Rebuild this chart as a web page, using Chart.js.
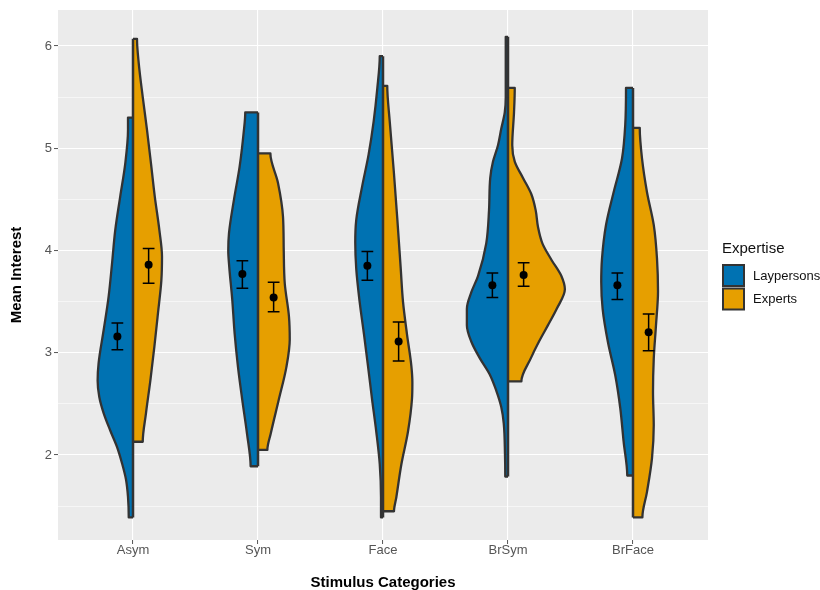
<!DOCTYPE html>
<html>
<head>
<meta charset="utf-8">
<script src="https://cdn.jsdelivr.net/npm/chart.js@4.4.1/dist/chart.umd.min.js"></script>
<style>
  html, body { margin: 0; padding: 0; background: #ffffff; }
  canvas { display: block; }
</style>
</head>
<body>
<canvas id="chart" width="820" height="590"></canvas>
<script>
// Stimulus categories on the x axis
const categories = ['Asym', 'Sym', 'Face', 'BrSym', 'BrFace'];
const groups = ['Laypersons', 'Experts'];

// Violin outlines: [mean interest, half-width of the density in category units], bottom to top
const asymLay = [[1.39, 0.034], [1.59, 0.040], [1.76, 0.056], [1.92, 0.088], [2.08, 0.128], [2.24, 0.182], [2.41, 0.235], [2.57, 0.270], [2.73, 0.283], [2.90, 0.275], [3.22, 0.235], [3.55, 0.195], [3.87, 0.168], [4.20, 0.142], [4.53, 0.102], [4.85, 0.062], [5.18, 0.040], [5.30, 0.040]];
const asymExp = [[2.13, 0.078], [2.41, 0.104], [2.73, 0.139], [3.06, 0.171], [3.39, 0.200], [3.71, 0.227], [3.94, 0.232], [4.20, 0.211], [4.53, 0.174], [4.85, 0.144], [5.18, 0.112], [5.50, 0.078], [5.83, 0.046], [6.07, 0.032]];
const symLay = [[1.89, 0.059], [2.21, 0.088], [2.54, 0.126], [2.86, 0.160], [3.19, 0.187], [3.52, 0.206], [3.84, 0.230], [4.00, 0.238], [4.17, 0.232], [4.50, 0.192], [4.82, 0.147], [5.15, 0.115], [5.35, 0.102]];
const symExp = [[2.05, 0.075], [2.21, 0.102], [2.54, 0.166], [2.86, 0.227], [3.13, 0.254], [3.35, 0.248], [3.68, 0.214], [4.00, 0.206], [4.33, 0.200], [4.66, 0.160], [4.95, 0.099]];
const faceLay = [[1.39, 0.016], [1.59, 0.016], [1.91, 0.026], [2.23, 0.054], [2.55, 0.088], [2.87, 0.120], [3.18, 0.152], [3.50, 0.187], [3.82, 0.214], [4.08, 0.222], [4.30, 0.214], [4.62, 0.168], [4.94, 0.115], [5.26, 0.075], [5.58, 0.046], [5.90, 0.026]];
const faceExp = [[1.45, 0.088], [1.59, 0.107], [1.91, 0.147], [2.23, 0.200], [2.55, 0.232], [2.71, 0.235], [2.87, 0.227], [3.18, 0.192], [3.50, 0.160], [3.82, 0.142], [4.30, 0.115], [4.78, 0.086], [5.26, 0.054], [5.61, 0.034]];
const brsymLay = [[1.79, 0.022], [2.00, 0.024], [2.31, 0.034], [2.47, 0.054], [2.63, 0.094], [2.79, 0.147], [2.95, 0.227], [3.11, 0.294], [3.27, 0.329], [3.43, 0.329], [3.59, 0.294], [3.75, 0.240], [4.07, 0.174], [4.39, 0.152], [4.71, 0.142], [4.87, 0.120], [5.03, 0.080], [5.19, 0.054], [5.35, 0.026], [5.50, 0.018], [6.09, 0.018]];
const brsymExp = [[2.72, 0.107], [2.95, 0.184], [3.11, 0.248], [3.27, 0.320], [3.43, 0.390], [3.62, 0.455], [3.75, 0.427], [3.91, 0.347], [4.07, 0.275], [4.23, 0.240], [4.39, 0.222], [4.55, 0.187], [4.71, 0.120], [4.87, 0.054], [5.03, 0.034], [5.35, 0.048], [5.59, 0.054]];
const brfaceLay = [[1.80, 0.046], [2.13, 0.075], [2.46, 0.102], [2.78, 0.142], [3.10, 0.200], [3.43, 0.243], [3.69, 0.254], [3.92, 0.248], [4.25, 0.216], [4.57, 0.155], [4.90, 0.088], [5.23, 0.062], [5.59, 0.056]];
const brfaceExp = [[1.39, 0.075], [1.64, 0.112], [1.97, 0.152], [2.29, 0.166], [2.62, 0.160], [2.94, 0.166], [3.27, 0.184], [3.60, 0.200], [3.92, 0.192], [4.25, 0.166], [4.57, 0.112], [4.90, 0.072], [5.20, 0.054]];

const layProfiles = [asymLay, symLay, faceLay, brsymLay, brfaceLay];
const expProfiles = [asymExp, symExp, faceExp, brsymExp, brfaceExp];

// Group means with their error-bar limits
const layMeans = [3.16, 3.77, 3.85, 3.66, 3.66];
const layLower = [3.03, 3.63, 3.71, 3.54, 3.52];
const layUpper = [3.29, 3.90, 3.99, 3.78, 3.78];
const expMeans = [3.86, 3.54, 3.11, 3.76, 3.20];
const expLower = [3.68, 3.40, 2.92, 3.65, 3.02];
const expUpper = [4.02, 3.69, 3.30, 3.88, 3.38];

// Axis tick positions
const yTickValues = [1.5, 2, 2.5, 3, 3.5, 4, 4.5, 5, 5.5, 6];

const groupColors = ['#0072B2', '#E69F00'];
const outlineColor = '#333333';
const dodge = 0.125;
const capHalf = 0.047;
const FONT = '"Liberation Sans", Arial, Helvetica, sans-serif';

function halfViolin(profile, center, side, color) {
  const pts = [{ x: center, y: profile[0][0] }];
  profile.forEach(([v, w]) => pts.push({ x: center + side * w, y: v }));
  pts.push({ x: center, y: profile[profile.length - 1][0] });
  return {
    data: pts,
    fill: { value: center },
    backgroundColor: color,
    borderColor: outlineColor,
    borderWidth: 2.3,
    borderJoinStyle: 'round',
    pointRadius: 0,
    cubicInterpolationMode: 'monotone',
    order: 3
  };
}

function errorBar(center, lo, hi) {
  return {
    data: [
      { x: center - capHalf, y: hi }, { x: center + capHalf, y: hi },
      { x: center, y: hi }, { x: center, y: lo },
      { x: center - capHalf, y: lo }, { x: center + capHalf, y: lo }
    ],
    fill: false,
    borderColor: '#000000',
    borderWidth: 1.5,
    pointRadius: 0,
    tension: 0,
    order: 1
  };
}

const datasets = [];
categories.forEach((cat, i) => {
  const lay = layProfiles[i];
  const exp = expProfiles[i];
  datasets.push(halfViolin(lay, i, -1, groupColors[0]));
  datasets.push(halfViolin(exp, i, 1, groupColors[1]));
  const lowest = Math.min(lay[0][0], exp[0][0]);
  const highest = Math.max(lay[lay.length - 1][0], exp[exp.length - 1][0]);
  datasets.push({
    data: [{ x: i, y: lowest }, { x: i, y: highest }],
    fill: false, borderColor: outlineColor, borderWidth: 2.5, pointRadius: 0, order: 2
  });
  datasets.push(errorBar(i - dodge, layLower[i], layUpper[i]));
  datasets.push(errorBar(i + dodge, expLower[i], expUpper[i]));
});
datasets.push({
  data: categories.map((c, i) => ({ x: i - dodge, y: layMeans[i] }))
    .concat(categories.map((c, i) => ({ x: i + dodge, y: expMeans[i] }))),
  showLine: false, fill: false,
  pointRadius: 4, pointBackgroundColor: '#000000', pointBorderColor: '#000000', pointBorderWidth: 0,
  order: 0
});

// Grey panel behind the grid
const panelPlugin = {
  id: 'panel',
  beforeDraw(chart) {
    const { ctx, chartArea: a } = chart;
    ctx.save();
    ctx.fillStyle = '#EBEBEB';
    ctx.fillRect(a.left, a.top, a.right - a.left, a.bottom - a.top);
    ctx.restore();
  }
};

// Legend with a title and outlined colour keys
const keyPlugin = {
  id: 'expertiseKey',
  afterDraw(chart) {
    const { ctx } = chart;
    ctx.save();
    ctx.textBaseline = 'middle';
    ctx.textAlign = 'left';
    ctx.fillStyle = '#111111';
    ctx.font = '15px ' + FONT;
    ctx.fillText('Expertise', 722, 249);
    ctx.font = '13px ' + FONT;
    groups.forEach((g, k) => {
      const top = 265 + k * 23.5;
      ctx.fillStyle = groupColors[k];
      ctx.fillRect(723, top, 21, 21);
      ctx.strokeStyle = outlineColor;
      ctx.lineWidth = 2;
      ctx.strokeRect(723, top, 21, 21);
      ctx.fillStyle = '#111111';
      ctx.fillText(g, 753, top + 11);
    });
    ctx.restore();
  }
};

new Chart(document.getElementById('chart'), {
  type: 'line',
  data: { datasets },
  plugins: [panelPlugin, keyPlugin],
  options: {
    indexAxis: 'y',
    responsive: false,
    devicePixelRatio: 1,
    animation: false,
    layout: { padding: { top: 10, right: 112, bottom: 0, left: 0 } },
    plugins: { legend: { display: false }, tooltip: { enabled: false } },
    scales: {
      x: {
        type: 'linear',
        min: -0.6,
        max: 4.6,
        afterBuildTicks: (scale) => { scale.ticks = categories.map((c, i) => ({ value: i })); },
        afterFit: (scale) => { scale.height = 50; },
        ticks: {
          autoSkip: false,
          maxRotation: 0,
          padding: -1,
          color: '#555555',
          font: { family: FONT, size: 13 },
          callback: (v) => categories[v]
        },
        grid: { color: '#FFFFFF', lineWidth: 1.1, tickColor: '#555555', tickLength: 4, tickWidth: 1 },
        border: { display: false },
        title: {
          display: true, text: 'Stimulus Categories', color: '#000000',
          font: { family: FONT, size: 15, weight: 'bold' },
          padding: { top: 0, bottom: -2 }
        }
      },
      y: {
        type: 'linear',
        min: 1.169,
        max: 6.352,
        afterBuildTicks: (scale) => { scale.ticks = yTickValues.map((v) => ({ value: v })); },
        afterFit: (scale) => { scale.width = 58; },
        ticks: {
          autoSkip: false,
          padding: 2,
          color: '#555555',
          font: { family: FONT, size: 13 },
          callback: (v) => (v % 1 === 0 ? String(v) : '')
        },
        grid: {
          color: '#FFFFFF',
          lineWidth: (c) => (c.tick && c.tick.value % 1 === 0 ? 1.1 : 0.55),
          tickColor: (c) => (c.tick && c.tick.value % 1 === 0 ? '#555555' : 'rgba(0,0,0,0)'),
          tickLength: 4,
          tickWidth: 1
        },
        border: { display: false },
        title: {
          display: true, text: 'Mean Interest', color: '#000000',
          font: { family: FONT, size: 15, weight: 'bold' },
          padding: { top: 8, bottom: 0 }
        }
      }
    }
  }
});
</script>
</body>
</html>
